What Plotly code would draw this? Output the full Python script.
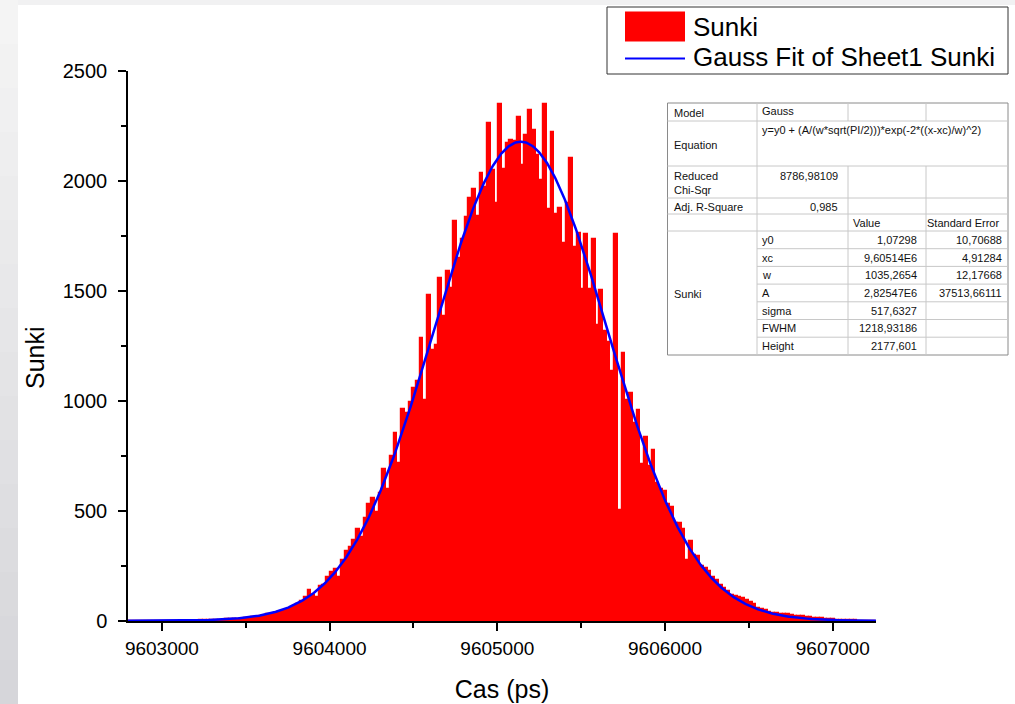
import numpy as np
import plotly.graph_objects as go

# ---------------- data ----------------
BIN_START = 9602798.0      # ps, left edge of first bin
BIN_WIDTH = 22.3           # ps
counts = [
    # far left tail
    0, 0, 0, 0, 0, 0, 0, 0, 1, 1, 1, 1, 1, 1, 2, 2, 2, 2,
    2, 3, 3, 4, 4, 5, 6, 6, 7, 8, 9, 10, 11, 13, 15, 17, 19, 22, 25, 30,
    32, 36, 40, 44, 52, 58, 70, 76,
    # rising flank
    89, 110, 140, 120, 108, 158, 165, 199, 225, 238,
    199, 277, 316, 335, 370, 417, 380, 470, 530, 560,
    495, 580, 690, 600, 750, 856, 720, 965, 945, 996,
    1058, 1090,
    # peak region
    1288, 1003, 1483, 1233, 1254, 1561, 1386, 1593, 1512, 1819,
    1652, 1738, 1837, 1921, 1965, 1840, 2035, 1973, 2262, 2051,
    1902, 2348, 2054, 2171, 2187, 2183, 2290, 2071, 2207, 2321,
    2234, 2118, 2004, 2348, 1871, 2223, 1848, 1879, 1718, 1902,
    2105, 1699, 1765, 1508, 1758, 1508, 1735, 1347, 1504, 1316,
    1269, 1136, 1757, 503, 1218, 1003, 1035, 902, 960, 714,
    836, 706, 777,
    # falling flank and right tail
    628, 600, 590, 530, 520, 446, 446, 416, 279, 363,
    300, 294, 249, 241, 226, 200, 188, 165, 150, 135,
    120, 115, 108, 105, 94, 85, 79, 60, 55, 48,
    42, 38, 37, 34, 33, 30, 29, 24, 21, 21,
    18, 17, 14, 12, 12, 10, 9, 8, 6, 6,
    5, 4, 3, 3, 2, 2, 1, 1, 1,
]

# Gauss fit parameters (as reported in the table)
FIT_Y0 = 1.07298
FIT_XC = 9.60514e6
FIT_W = 1035.2654
FIT_A = 2.82547e6

X_RANGE = [BIN_START, BIN_START + BIN_WIDTH * len(counts)]
Y_RANGE = [0, 2500]
X_TICKS = [9603000, 9604000, 9605000, 9606000, 9607000]
Y_TICKS = [0, 500, 1000, 1500, 2000, 2500]
X_TITLE = "Cas (ps)"
Y_TITLE = "Sunki"

# fit-report table content
table_left = ["Model", "Equation", "Reduced<br>Chi-Sqr", "Adj. R-Square", "Sunki"]
model_name = "Gauss"
equation = "y=y0 + (A/(w*sqrt(PI/2)))*exp(-2*((x-xc)/w)^2)"
red_chisq = "8786,98109"
adj_r2 = "0,985"
param_names = ["y0", "xc", "w", "A", "sigma", "FWHM", "Height"]
param_values = ["1,07298", "9,60514E6", "1035,2654", "2,82547E6", "517,6327", "1218,93186", "2177,601"]
param_errors = ["10,70688", "4,91284", "12,17668", "37513,66111", "", "", ""]

legend_labels = ["Sunki", "Gauss Fit of Sheet1 Sunki"]

# ---------------- figure ----------------
W, H = 1015, 704
ML, MR, MT, MB = 128, 139, 71, 83
PW, PH = W - ML - MR, H - MT - MB


def px(x):
    return (x - ML) / PW


def py(y):
    return (H - MB - y) / PH


x_centers = BIN_START + BIN_WIDTH * (np.arange(len(counts)) + 0.5)
x_fit = np.linspace(X_RANGE[0], X_RANGE[1], 800)
y_fit = FIT_Y0 + (FIT_A / (FIT_W * np.sqrt(np.pi / 2))) * np.exp(-2 * ((x_fit - FIT_XC) / FIT_W) ** 2)

fig = go.Figure()
fig.add_trace(go.Bar(
    x=x_centers, y=counts, width=BIN_WIDTH, name=legend_labels[0],
    marker=dict(color="#ff0000", line=dict(color="#ff0000", width=1.2)),
    showlegend=False,
))
fig.add_trace(go.Scatter(
    x=x_fit, y=y_fit, mode="lines", name=legend_labels[1],
    line=dict(color="#0000ff", width=2.5), showlegend=False,
))

FONT = "Liberation Sans, Arial, sans-serif"
shapes = []
annotations = []

# background frame (light grey gradient on left and top edge)
n_bands = 16
for i in range(n_bands):
    t = i / (n_bands - 1)
    c = int(round(0xf4 + (0xd6 - 0xf4) * t))
    c2 = int(round(0xf4 + (0xda - 0xf4) * t))
    col = "rgb(%d,%d,%d)" % (c, c, c2)
    y0p = H * i / n_bands
    y1p = H * (i + 1) / n_bands
    shapes.append(dict(type="rect", xref="paper", yref="paper", layer="below",
                       x0=px(0), x1=px(18), y0=py(y1p), y1=py(y0p),
                       fillcolor=col, line=dict(width=0)))
shapes.append(dict(type="rect", xref="paper", yref="paper", layer="below",
                   x0=px(18), x1=px(W), y0=py(5), y1=py(0),
                   fillcolor="#f1f1f2", line=dict(width=0)))

# ---- y axis title (placed as in the original, slightly below centre) ----
annotations.append(dict(xref="paper", yref="paper", x=px(35), y=py(358), text=Y_TITLE,
                        textangle=-90, showarrow=False, xanchor="center", yanchor="middle",
                        font=dict(family=FONT, size=25, color="#000000")))

# ---- legend (drawn manually to match the large swatch) ----
shapes.append(dict(type="rect", xref="paper", yref="paper", layer="above",
                   x0=px(607), x1=px(1008), y0=py(74), y1=py(7),
                   fillcolor="#ffffff", line=dict(color="#333333", width=1)))
shapes.append(dict(type="rect", xref="paper", yref="paper", layer="above",
                   x0=px(625), x1=px(685), y0=py(41.5), y1=py(11.5),
                   fillcolor="#ff0000", line=dict(width=0)))
shapes.append(dict(type="line", xref="paper", yref="paper", layer="above",
                   x0=px(625), x1=px(685), y0=py(58.5), y1=py(58.5),
                   line=dict(color="#0000ff", width=2)))
for lab, yc in zip(legend_labels, [26.5, 57.5]):
    annotations.append(dict(xref="paper", yref="paper", x=px(691), y=py(yc),
                            text=lab, showarrow=False, xanchor="left", yanchor="middle",
                            font=dict(family=FONT, size=26, color="#000000")))

# ---- fit report table ----
TX = [667.5, 757, 848, 926, 1008]
TY = [103, 121, 166, 198, 214, 231, 248.7, 266.4, 284.1, 301.8, 319.5, 337.2, 355]
GRID = "#c8c8c8"


def hline(y, x0, x1, color=GRID):
    shapes.append(dict(type="line", xref="paper", yref="paper", layer="above",
                       x0=px(x0), x1=px(x1), y0=py(y), y1=py(y),
                       line=dict(color=color, width=1)))


def vline(x, y0, y1, color=GRID):
    shapes.append(dict(type="line", xref="paper", yref="paper", layer="above",
                       x0=px(x), x1=px(x), y0=py(y0), y1=py(y1),
                       line=dict(color=color, width=1)))


shapes.append(dict(type="rect", xref="paper", yref="paper", layer="above",
                   x0=px(TX[0]), x1=px(TX[4]), y0=py(TY[-1]), y1=py(TY[0]),
                   fillcolor="#ffffff", line=dict(color="#8a8a8a", width=1)))
for yy in TY[1:6]:
    hline(yy, TX[0], TX[4])
for yy in TY[6:12]:
    hline(yy, TX[1], TX[4])
vline(TX[1], TY[0], TY[-1])
for xx in TX[2:4]:
    vline(xx, TY[0], TY[1])
    vline(xx, TY[2], TY[-1])

TFS = 11


def ttext(x, y, s, anchor="left"):
    annotations.append(dict(xref="paper", yref="paper", x=px(x), y=py(y), text=s,
                            showarrow=False, xanchor=anchor, yanchor="middle", align=anchor,
                            font=dict(family=FONT, size=TFS, color="#111111")))


ttext(672, 112.5, table_left[0])
ttext(672, 145, table_left[1])
ttext(672, 183, table_left[2])
ttext(672, 207, table_left[3])
ttext(672, 294, table_left[4])
ttext(760, 111, model_name)
ttext(760, 130, equation)
ttext(840, 176, red_chisq, "right")
ttext(840, 207, adj_r2, "right")
ttext(851, 223, "Value")
ttext(925, 223, "Standard Error")
for i, (n, v, e) in enumerate(zip(param_names, param_values, param_errors)):
    yc = (TY[5 + i] + TY[6 + i]) / 2
    ttext(760, yc, n)
    ttext(919, yc, v, "right")
    if e:
        ttext(1004, yc, e, "right")

fig.update_layout(
    width=W, height=H, autosize=False,
    margin=dict(l=ML, r=MR, t=MT, b=MB, pad=0, autoexpand=False),
    paper_bgcolor="#ffffff", plot_bgcolor="#ffffff",
    bargap=0, barmode="overlay",
    shapes=shapes, annotations=annotations,
    font=dict(family=FONT, color="#000000"),
    showlegend=False,
)
fig.update_xaxes(
    range=X_RANGE, showgrid=False, zeroline=False, automargin=False,
    showline=True, linecolor="#000000", linewidth=1.5,
    ticks="outside", ticklen=8, tickwidth=1.5, tickcolor="#000000",
    tickvals=X_TICKS, ticktext=[str(v) for v in X_TICKS],
    tickfont=dict(family=FONT, size=19, color="#000000"),
    ticklabelstandoff=1,
    minor=dict(tickvals=[v + 500 for v in X_TICKS[:-1]], ticks="outside", ticklen=5,
               tickwidth=1.5, tickcolor="#000000", showgrid=False),
    title=dict(text=X_TITLE, font=dict(family=FONT, size=25, color="#000000"), standoff=23),
)
fig.update_yaxes(
    range=Y_RANGE, showgrid=False, zeroline=False, automargin=False,
    showline=True, linecolor="#000000", linewidth=1.5,
    ticks="outside", ticklen=8, tickwidth=1.5, tickcolor="#000000",
    tickvals=Y_TICKS, ticktext=[str(v) for v in Y_TICKS],
    tickfont=dict(family=FONT, size=20, color="#000000"),
    ticklabelstandoff=7,
    minor=dict(tickvals=[v + 250 for v in Y_TICKS[:-1]], ticks="outside", ticklen=5,
               tickwidth=1.5, tickcolor="#000000", showgrid=False),
)

fig.write_html(
    "out.html",
    config={"displayModeBar": False, "responsive": False},
    post_script="document.body.style.margin='0';document.body.style.overflow='hidden';"
                "document.body.style.background='#ffffff';",
)
